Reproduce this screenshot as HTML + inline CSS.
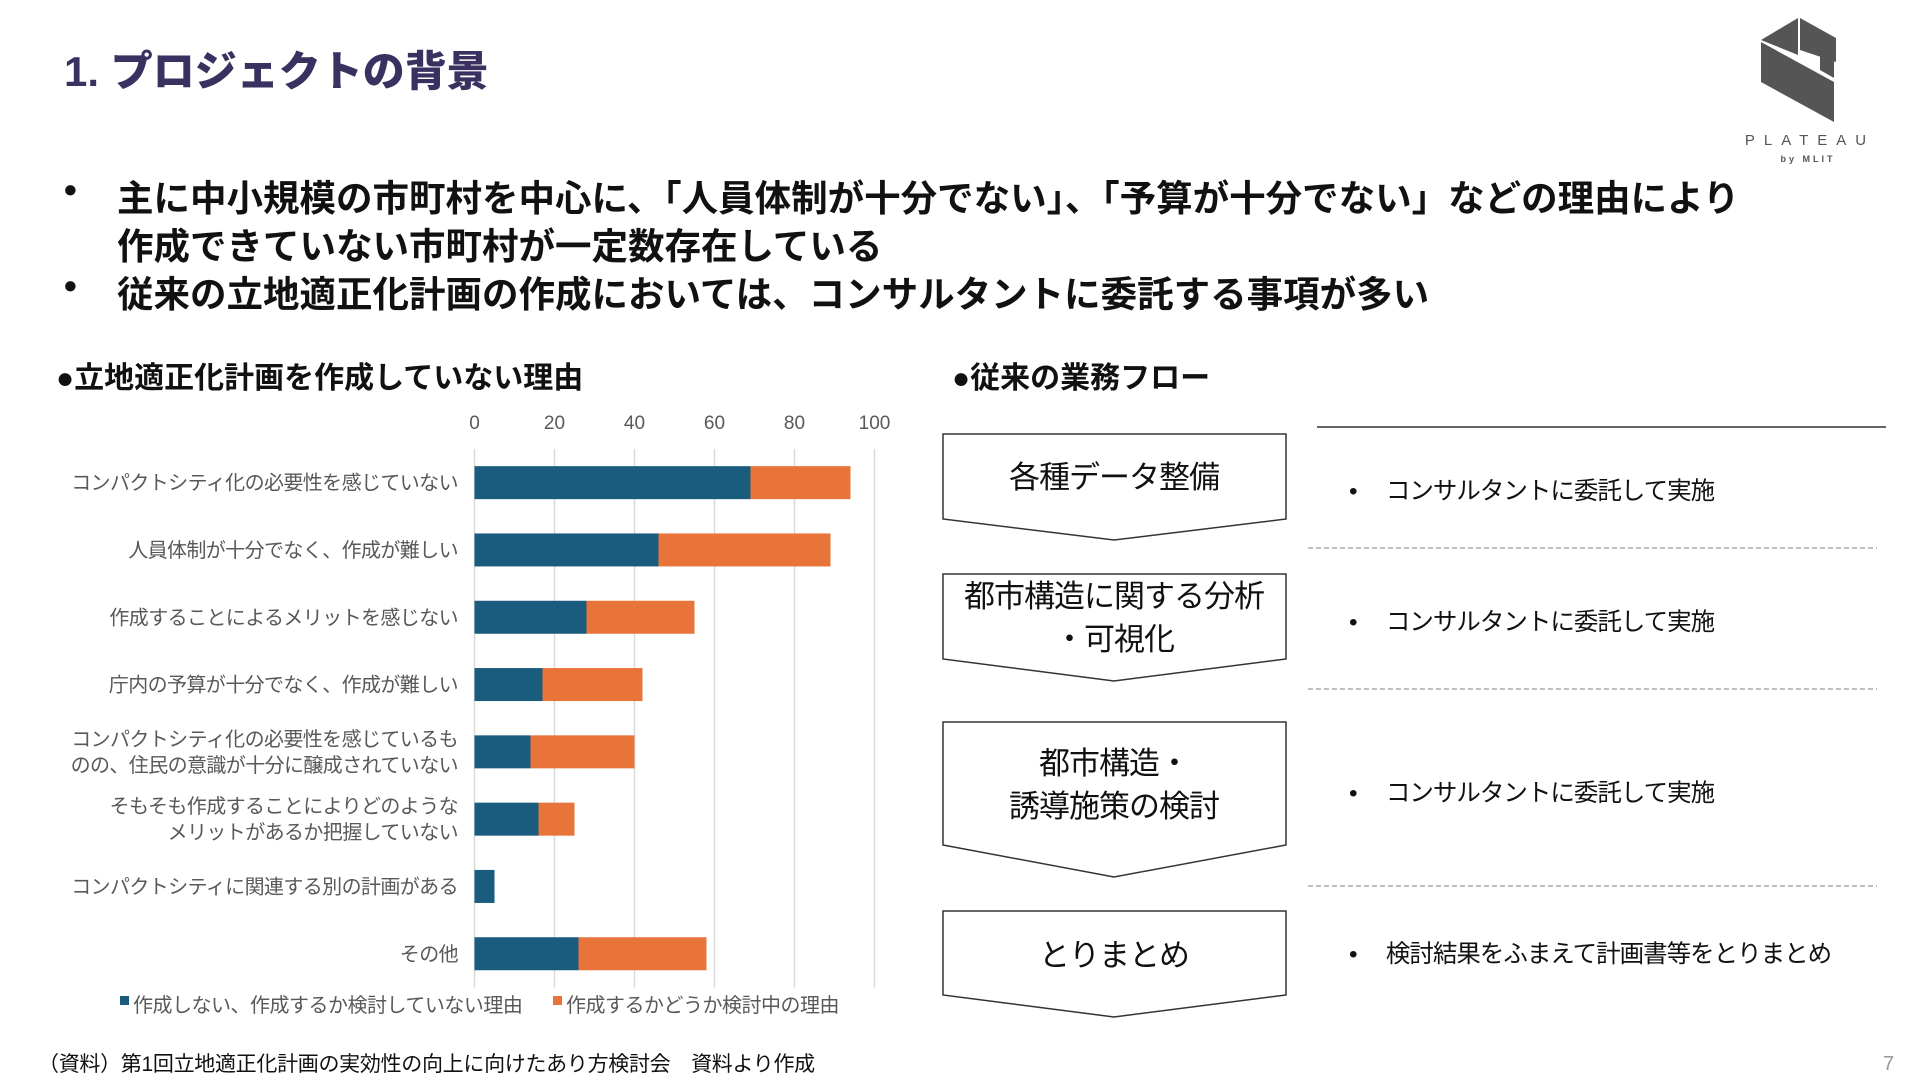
<!DOCTYPE html>
<html lang="ja"><head><meta charset="utf-8">
<style>
html,body{margin:0;padding:0;background:#fff}
body{width:1920px;height:1080px;position:relative;overflow:hidden;font-family:"Liberation Sans","Noto Sans CJK JP",sans-serif}
.abs{position:absolute;white-space:nowrap}
.title{left:64px;top:38px;font-size:42px;font-weight:900;color:#3b3160}
.bul{font-size:36.5px;font-weight:bold;color:#111}
.sec{font-size:30px;font-weight:bold;color:#111}
svg text{font-family:"Liberation Sans","Noto Sans CJK JP",sans-serif}
</style></head>
<body>
<div class="abs title">1. プロジェクトの背景</div>

<svg class="abs" style="left:1700px;top:0" width="220" height="170">
<g transform="translate(40,0)">
<polygon points="21,40 58,18 58,55 21,40" fill="#555"/>
<polygon points="60,18 96,38 96,62 60,50" fill="#555"/>
<polygon points="21,42 94,82 94,122 21,82" fill="#555"/>
<polygon points="80,50 94,42 94,78 80,70" fill="#555"/>
<text x="70" y="145" font-size="15" fill="#555" text-anchor="middle" letter-spacing="9">PLATEAU</text>
<text x="68" y="162" font-size="9" fill="#555" font-weight="bold" text-anchor="middle" letter-spacing="3">by MLIT</text>
</g>
</svg>

<div class="abs bul" style="left:64px;top:169px">•</div>
<div class="abs bul" style="left:117px;top:169px">主に中小規模の市町村を中心に、「人員体制が十分でない」、「予算が十分でない」などの理由により</div>
<div class="abs bul" style="left:117px;top:217px">作成できていない市町村が一定数存在している</div>
<div class="abs bul" style="left:64px;top:265px">•</div>
<div class="abs bul" style="left:117px;top:265px">従来の立地適正化計画の作成においては、コンサルタントに委託する事項が多い</div>

<div class="abs sec" style="left:56px;top:353px">●立地適正化計画を作成していない理由</div>
<div class="abs sec" style="left:952px;top:353px">●従来の業務フロー</div>

<svg id="chart" class="abs" style="left:-3px;top:400px" width="920" height="630"></svg>

<svg class="abs" style="left:934px;top:417px" width="980" height="620">
<line x1="383" y1="10" x2="952" y2="10" stroke="#333" stroke-width="1.5"/>
<g fill="#fff" stroke="#333" stroke-width="1.5">
<polygon points="9,17 352,17 352,102 180,123 9,102"/>
<polygon points="9,157 352,157 352,242 180,264 9,242"/>
<polygon points="9,305 352,305 352,428 180,460 9,428"/>
<polygon points="9,494 352,494 352,578 180,600 9,578"/>
</g>
<g stroke="#aaa" stroke-width="1.5" stroke-dasharray="5,3">
<line x1="374" y1="131" x2="943" y2="131"/>
<line x1="374" y1="272" x2="943" y2="272"/>
<line x1="374" y1="469" x2="943" y2="469"/>
</g>
<g font-size="31" fill="#111" text-anchor="middle" letter-spacing="-1">
<text x="180" y="71">各種データ整備</text>
<text x="180" y="190">都市構造に関する分析</text>
<text x="180" y="233">・可視化</text>
<text x="180" y="357">都市構造・</text>
<text x="180" y="400">誘導施策の検討</text>
<text x="180" y="549">とりまとめ</text>
</g>
<g font-size="24.5" fill="#111" letter-spacing="-1">
<text x="415" y="82">•　 コンサルタントに委託して実施</text>
<text x="415" y="213">•　 コンサルタントに委託して実施</text>
<text x="415" y="384">•　 コンサルタントに委託して実施</text>
<text x="415" y="545">•　 検討結果をふまえて計画書等をとりまとめ</text>
</g>
</svg>

<div class="abs" style="left:38px;top:1048px;font-size:21px;color:#111;letter-spacing:-0.3px">（資料）第1回立地適正化計画の実効性の向上に向けたあり方検討会　資料より作成</div>
<div class="abs" style="left:1883px;top:1053px;font-size:20px;color:#999">7</div>

<script>
const categories = [
 ["コンパクトシティ化の必要性を感じていない"],
 ["人員体制が十分でなく、作成が難しい"],
 ["作成することによるメリットを感じない"],
 ["庁内の予算が十分でなく、作成が難しい"],
 ["コンパクトシティ化の必要性を感じているも","のの、住民の意識が十分に醸成されていない"],
 ["そもそも作成することによりどのような","メリットがあるか把握していない"],
 ["コンパクトシティに関連する別の計画がある"],
 ["その他"]
];
const notConsidering = [69, 46, 28, 17, 14, 16, 5, 26];
const considering = [25, 43, 27, 25, 26, 9, 0, 32];
const ticks = [0, 20, 40, 60, 80, 100];
const seriesNames = ["作成しない、作成するか検討していない理由", "作成するかどうか検討中の理由"];

const svg = document.getElementById('chart');
const NS = 'http://www.w3.org/2000/svg';
const x0 = 477.5, xw = 400, yTop = 49, rowH = 67.3, barH = 33;
const xs = v => x0 + v / 100 * xw;
const yc = i => yTop + rowH * (i + 0.5);
function mk(tag, attrs) { const e = document.createElementNS(NS, tag); for (const k in attrs) e.setAttribute(k, attrs[k]); svg.appendChild(e); return e; }

ticks.forEach(t => {
  const g = mk('line', {x1: xs(t), x2: xs(t), y1: yTop, y2: yTop + rowH * categories.length, stroke: '#d9d9d9', 'stroke-width': 1.5});
  
  
  const l = mk('text', {x: xs(t), y: 29, 'font-size': 19, fill: '#595959', 'text-anchor': 'middle'});
  l.textContent = t;
  
  
});

categories.forEach((c, i) => {
  const cy = yc(i);
  const b1 = mk('rect', {x: xs(0), y: cy - barH / 2, width: xs(notConsidering[i]) - xs(0), height: barH, fill: '#1a5c7e'});
  
  
  const b2 = mk('rect', {x: xs(notConsidering[i]), y: cy - barH / 2, width: xs(notConsidering[i] + considering[i]) - xs(notConsidering[i]), height: barH, fill: '#e8743a'});
  
  
  c.forEach((line, j) => {
    const t = mk('text', {x: 461, y: cy + 7 + (j - (c.length - 1) / 2) * 26, 'font-size': 20, fill: '#595959', 'text-anchor': 'end', 'letter-spacing': -0.6});
    t.textContent = line;
    
    
  });
});

const colors = ['#1a5c7e', '#e8743a'];
const lx = [123, 556];
seriesNames.forEach((n, i) => {
  const r = mk('rect', {x: lx[i], y: 596, width: 9, height: 9, fill: colors[i]});
  
  
  const t = mk('text', {x: lx[i] + 13, y: 612, 'font-size': 20, fill: '#595959', 'letter-spacing': -0.5});
  t.textContent = n;
  
  
});
</script>
</body></html>
